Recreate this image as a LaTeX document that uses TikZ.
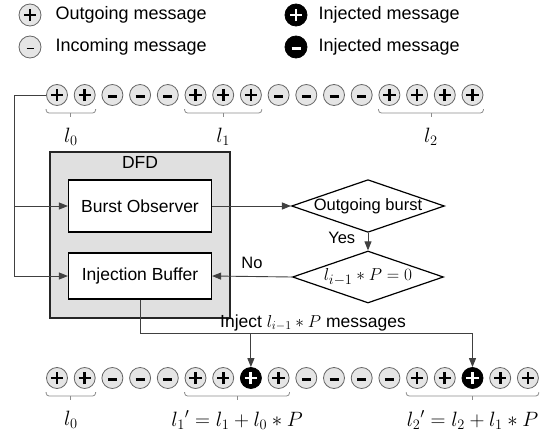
\documentclass[tikz,border=0pt]{standalone}
\usepackage{fontspec}
\setmainfont{Liberation Sans}
\usetikzlibrary{shapes.geometric,arrows.meta,calc}

\tikzset{
  msg/.style={circle, draw=black!60, fill=black!10, line width=0.8pt,
    minimum size=21pt, inner sep=0pt},
  plusmark/.style n args={3}{path picture={
    \draw[line width=#1, #2]
      ([xshift=-#3]path picture bounding box.center) -- ([xshift=#3]path picture bounding box.center)
      ([yshift=-#3]path picture bounding box.center) -- ([yshift=#3]path picture bounding box.center);}},
  minusmark/.style n args={3}{path picture={
    \draw[line width=#1, #2]
      ([xshift=-#3,yshift=-1.5pt]path picture bounding box.center) -- ([xshift=#3,yshift=-1.5pt]path picture bounding box.center);}},
  msgout/.style={msg, plusmark={2.7pt}{black}{6.2pt}},
  msgin/.style={msg, minusmark={3.2pt}{black}{4.5pt}},
  msginj/.style={msg, fill=black, draw=black, plusmark={2.9pt}{white}{6.2pt}},
  legout/.style={msg, minimum size=22pt, plusmark={1.5pt}{black}{6pt}},
  legin/.style={msg, minimum size=22pt, minusmark={1.6pt}{black}{3.5pt}},
  leginjout/.style={msg, minimum size=22pt, fill=black, draw=black, plusmark={2.8pt}{white}{6pt}},
  leginjin/.style={msg, minimum size=22pt, fill=black, draw=black, minusmark={3pt}{white}{4.5pt}},
  legtext/.style={anchor=west, font=\fontsize{18}{21}\selectfont},
  dfdbox/.style={draw=black!85, fill=black!12, line width=1.2pt,
    minimum width=180pt, minimum height=166pt},
  unit/.style={draw=black, fill=white, line width=1.2pt, minimum width=143pt,
    font=\fontsize{17.5}{20}\selectfont},
  decision/.style={diamond, aspect=2.9, inner sep=0pt, draw=black, fill=white,
    line width=1.2pt, minimum width=151pt, minimum height=52pt,
    font=\fontsize{16.5}{19}\selectfont},
  conn/.style={draw=black!75, line width=0.9pt},
  arr/.style={conn, -{Triangle[length=9pt,width=7pt]}},
  brc/.style={draw=black!45, line width=0.8pt, rounded corners=3pt},
  lab/.style={font=\fontsize{19.5}{22}\selectfont},
  smalltext/.style={font=\fontsize{16.5}{19}\selectfont},
}

% underbrace below a run of messages
\newcommand\msgbrace[2]{%
  \draw[brc] ($(#1.west)+(0,14)$) -- ($(#1.west)+(0,18)$) -- ($(#2.east)+(0,18)$) -- ($(#2.east)+(0,14)$);
  \draw[brc] ($(#1.west)!.5!(#2.east)+(0,18)$) -- ++(0,4);
}

\begin{document}
\begin{tikzpicture}[x=1pt,y=-1pt]
\useasboundingbox (0,0) rectangle (550,434);

% legend
\node[legout] (lg1) at (30,15) {};
\node[legtext] (lt1) at (52,15) {Outgoing message};
\node[legin] (lg2) at (30,47) {};
\node[legtext] (lt2) at (52,47) {Incoming message};
\node[leginjout] (lg3) at (296,15) {};
\node[legtext] (lt3) at (315,15) {Injected message};
\node[leginjin] (lg4) at (296,47) {};
\node[legtext] (lt4) at (315,47) {Injected message};

% original message stream
\foreach \s [count=\i from 0] in {msgout,msgout,msgin,msgin,msgin,msgout,msgout,msgout,msgin,msgin,msgin,msgin,msgout,msgout,msgout,msgout}
  \node[\s] (t\i) at ({57+27.7*\i},95) {};
\msgbrace{t0}{t1}
\msgbrace{t5}{t7}
\msgbrace{t12}{t15}
\node[lab] (tl0) at ($(t0.west)!.5!(t1.east)+(0,42)$) {$l_0$};
\node[lab] (tl1) at ($(t5.west)!.5!(t7.east)+(0,42)$) {$l_1$};
\node[lab] (tl2) at ($(t12.west)!.5!(t15.east)+(0,42)$) {$l_2$};

% DFD block
\node[dfdbox] (dfd) at (140,235) {};
\node[anchor=north, font=\fontsize{17.5}{20}\selectfont] (dfdt) at ([yshift=-2pt]dfd.north) {DFD};
\node[unit, minimum height=52pt] (bo) at (140,206) {Burst Observer};
\node[unit, minimum height=46pt] (ib) at (140,276) {Injection Buffer};

% decisions
\node[decision] (ob) at (368,206) {Outgoing burst};
\node[decision, font=\fontsize{19}{22}\selectfont] (cz) at (368,277) {$l_{i-1} * P = 0$};

% stream tap into the DFD
\draw[conn] (t0.west) -- ++(-31.5,0) coordinate (tap);
\draw[arr] (tap) |- (ib.west);
\draw[arr] (tap |- bo.west) -- (bo.west);

\draw[arr] (bo.east) -- (ob.west);
\draw[arr] (ob.south) -- node[pos=0.3, left=9pt, smalltext] (yes) {Yes} (cz.north);
\draw[arr] (cz.west) -- node[above=4pt, smalltext] (no) {No} (ib.east);

% modified message stream
\foreach \s [count=\i from 0] in {msgout,msgout,msgin,msgin,msgin,msgout,msgout,msginj,msgout,msgin,msgin,msgin,msgin,msgout,msgout,msginj,msgout,msgout}
  \node[\s] (b\i) at ({57+27.7*\i},378) {};
\msgbrace{b0}{b1}
\msgbrace{b5}{b8}
\msgbrace{b13}{b17}
\node[lab] (bl0) at ($(b0.west)!.5!(b1.east)+(0,42)$) {$l_0$};
\node[lab] (bl1) at ($(b5.west)!.5!(b8.east)+(0,42)$) {$l_1{}' = l_1 + l_0 * P$};
\node[lab] (bl2) at ($(b13.west)!.5!(b17.east)+(0,42)$) {$l_2{}' = l_2 + l_1 * P$};

% injection
\coordinate (jn) at (140,333);
\draw[arr] (ib.south) -- (jn) -| (b15.north);
\draw[arr] (jn -| b7.north) -- (b7.north);
\node[anchor=south, inner sep=2pt, font=\fontsize{17.5}{20}\selectfont] (injt) at (313,333) {Inject $l_{i-1} * P$ messages};
\end{tikzpicture}
\end{document}
